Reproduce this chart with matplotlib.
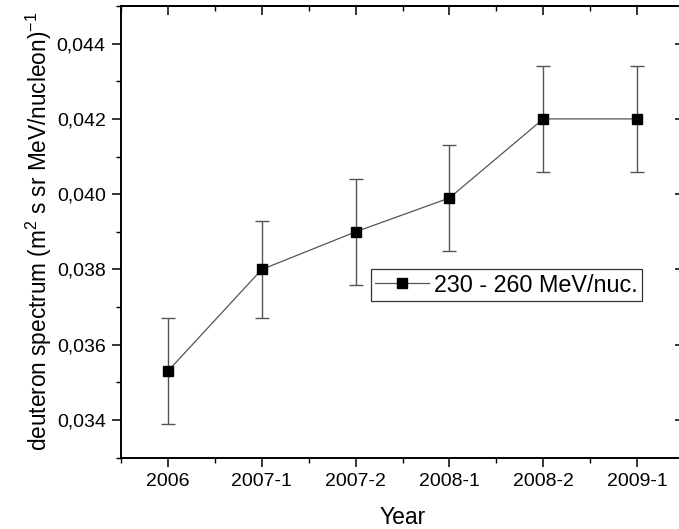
import matplotlib
matplotlib.use("Agg")
import matplotlib.pyplot as plt
from matplotlib.ticker import FixedLocator, MultipleLocator, FuncFormatter

plt.rcParams["font.family"] = ["Liberation Sans", "DejaVu Sans"]
plt.rcParams["mathtext.fontset"] = "custom"
plt.rcParams["mathtext.rm"] = "Liberation Sans"
plt.rcParams["mathtext.it"] = "Liberation Sans:italic"

periods = ["2006", "2007-1", "2007-2", "2008-1", "2008-2", "2009-1"]
flux = [0.0353, 0.0380, 0.0390, 0.0399, 0.0420, 0.0420]
flux_err = [0.0014, 0.0013, 0.0014, 0.0014, 0.0014, 0.0014]
series_label = "230 - 260 MeV/nuc."

fig = plt.figure(figsize=(6.79, 5.29), dpi=100)
ax = fig.add_axes([0.1782, 0.1348, 0.8292, 0.8539])

x = list(range(len(periods)))
ax.errorbar(x, flux, yerr=flux_err, fmt="none", ecolor="#555555",
            elinewidth=1.0, capsize=4.7, capthick=1.0, zorder=2)
ax.plot(x, flux, color="#555555", lw=0.9, marker="s", ms=7.3,
        mfc="black", mec="black", label=series_label, zorder=3)

ax.set_xlim(-0.5, 5.5)
ax.set_ylim(0.033, 0.045)
ax.xaxis.set_major_locator(FixedLocator(x))
ax.set_xticklabels(periods)
ax.xaxis.set_minor_locator(MultipleLocator(0.5))
ax.yaxis.set_major_locator(MultipleLocator(0.002))
ax.yaxis.set_minor_locator(MultipleLocator(0.001))
ax.yaxis.set_major_formatter(FuncFormatter(lambda v, _: f"{v:.3f}".replace(".", ",")))

for side in ax.spines.values():
    side.set_linewidth(1.4)

ax.tick_params(axis="both", which="major", length=6.5, width=1.1,
               labelsize=14, pad=4.5)
ax.tick_params(axis="both", which="minor", length=3.8, width=1.0)
ax.tick_params(axis="both", which="both", direction="out", top=False, right=False)

# inward ticks mirrored on the top and right spines
top = ax.secondary_xaxis("top")
top.xaxis.set_major_locator(FixedLocator(x))
top.xaxis.set_minor_locator(MultipleLocator(0.5))
top.tick_params(which="both", direction="in", labeltop=False)
top.tick_params(which="major", length=6.5, width=1.1)
top.tick_params(which="minor", length=3.8, width=1.0)
top.spines["top"].set_linewidth(1.4)

right = ax.secondary_yaxis("right")
right.yaxis.set_major_locator(MultipleLocator(0.002))
right.yaxis.set_minor_locator(MultipleLocator(0.001))
right.tick_params(which="both", direction="in", labelright=False)
right.tick_params(which="major", length=6.5, width=1.1)
right.tick_params(which="minor", length=3.8, width=1.0)

ax.set_xlabel("Year", fontsize=16.5, labelpad=11.5)
ax.set_ylabel(r"deuteron spectrum (m$^{2}$ s sr MeV/nucleon)$^{-1}$",
              fontsize=16.3, labelpad=2)

leg = ax.legend(loc="upper left", bbox_to_anchor=(0.4435, 0.4178),
                borderaxespad=0, fontsize=16.8, handlelength=2.3,
                handletextpad=0.2, borderpad=0.2, fancybox=False,
                framealpha=1)
leg.get_frame().set_edgecolor("#333333")
leg.get_frame().set_linewidth(0.9)

fig.savefig("out.png", dpi=100)
